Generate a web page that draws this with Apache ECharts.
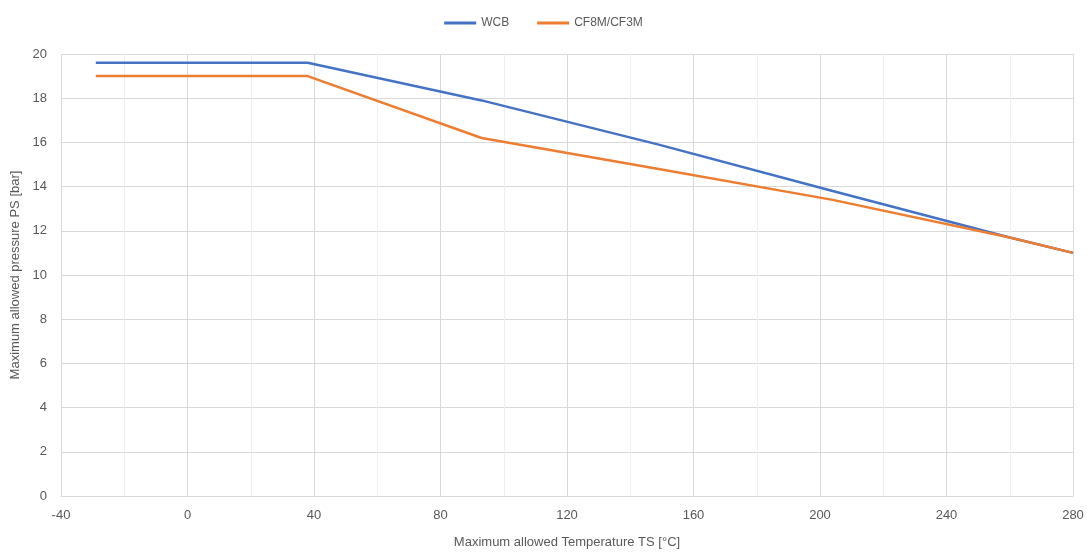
<!DOCTYPE html>
<html><head><meta charset="utf-8">
<script src="https://cdn.jsdelivr.net/npm/echarts@6/dist/echarts.min.js"></script>
<style>html,body{margin:0;padding:0;background:#fff}#c{width:1087px;height:554px}</style>
</head><body><div id="c"></div>
<script>
const seriesNames = ['WCB', 'CF8M/CF3M'];
const wcbTemps = [-29, 38, 93, 149, 204, 260, 280];
const wcbValues = [19.6, 19.6, 17.9, 15.9, 13.8, 11.7, 11.0];
const cf8mTemps = [-29, 38, 93, 149, 204, 260, 280];
const cf8mValues = [19.0, 19.0, 16.2, 14.8, 13.4, 11.7, 11.0];
const colors = ['#4472C4', '#ED7D31'];
const font = '"Liberation Sans", Arial, sans-serif';

function pairs(xs, ys) { return xs.map((x, i) => [x, ys[i]]); }

const chart = echarts.init(document.getElementById('c'), null, {renderer: 'canvas'});
chart.setOption({
  animation: false,
  backgroundColor: '#ffffff',
  legend: {
    top: 12, left: 'center',
    itemWidth: 32, itemHeight: 3, itemGap: 28,
    icon: 'rect',
    textStyle: {color: '#595959', fontSize: 12, fontFamily: font},
    data: seriesNames
  },
  grid: {left: 61, right: 14, top: 54, bottom: 57},
  xAxis: {
    type: 'value', min: -40, max: 280, interval: 40,
    name: 'Maximum allowed Temperature TS [°C]',
    nameLocation: 'middle', nameGap: 40,
    nameTextStyle: {color: '#595959', fontSize: 13, fontFamily: font},
    axisLine: {show: true, lineStyle: {color: '#d9d9d9', width: 1}},
    axisTick: {show: false},
    axisLabel: {color: '#595959', fontSize: 13, fontFamily: font, margin: 13},
    splitLine: {show: true, lineStyle: {color: '#d9d9d9', width: 1}},
    minorTick: {show: false, splitNumber: 2},
    minorSplitLine: {show: true, lineStyle: {color: '#efefef', width: 1}}
  },
  yAxis: {
    type: 'value', min: 0, max: 20, interval: 2,
    name: 'Maximum allowed pressure PS [bar]',
    nameLocation: 'middle', nameGap: 36, nameRotate: 90,
    nameTextStyle: {color: '#595959', fontSize: 13, fontFamily: font},
    axisLine: {show: false},
    axisTick: {show: false},
    axisLabel: {color: '#595959', fontSize: 13, fontFamily: font, margin: 14},
    splitLine: {show: true, lineStyle: {color: '#d9d9d9', width: 1}}
  },
  series: [
    {name: seriesNames[0], type: 'line', data: pairs(wcbTemps, wcbValues), showSymbol: false,
     lineStyle: {width: 2.5, color: colors[0]}, itemStyle: {color: colors[0]}},
    {name: seriesNames[1], type: 'line', data: pairs(cf8mTemps, cf8mValues), showSymbol: false,
     lineStyle: {width: 2.5, color: colors[1]}, itemStyle: {color: colors[1]}}
  ]
});
</script></body></html>
